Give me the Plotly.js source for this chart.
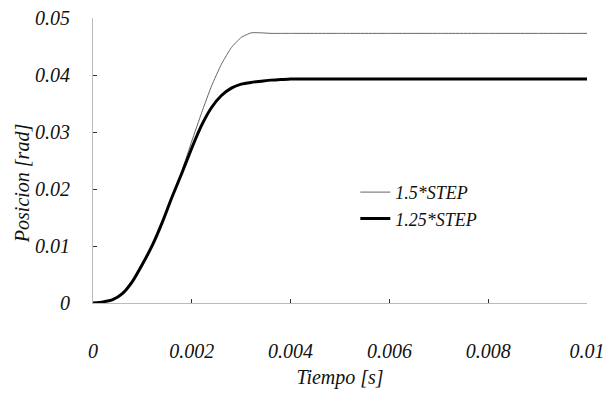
<!DOCTYPE html>
<html>
<head>
<meta charset="utf-8">
<script src="https://cdn.plot.ly/plotly-3.0.1.min.js"></script>
<style>html,body{margin:0;padding:0;background:#fff;}#chart{width:605px;height:393px;}</style>
</head>
<body>
<div id="chart"></div>
<script>
const tiempo = [0,0.0002,0.0004,0.0006,0.0008,0.001,0.0012,0.0014,0.0016,0.0018,0.002,0.0022,0.0024,0.0026,0.0028,0.003,0.0032,0.0034,0.0036,0.0038,0.004,0.005,0.006,0.007,0.008,0.009,0.01];
const step150 = [0,0.0002,0.0006,0.0017,0.0038,0.0068,0.0101,0.0141,0.0186,0.0232,0.0284,0.0334,0.0381,0.0419,0.0448,0.0466,0.0474,0.0474,0.0473,0.0473,0.0473,0.0473,0.0473,0.0473,0.0473,0.0473,0.0473];
const step125 = [0,0.0002,0.0006,0.0017,0.0038,0.0068,0.0101,0.0141,0.0186,0.0228,0.0272,0.0312,0.0343,0.0364,0.0377,0.0384,0.0387,0.0389,0.0391,0.0392,0.0393,0.0393,0.0393,0.0393,0.0393,0.0393,0.0393];
const seriesNames = ['1.5*STEP','1.25*STEP'];
const xTicks = [0,0.002,0.004,0.006,0.008,0.01];
const xTickText = ['0','0.002','0.004','0.006','0.008','0.01'];
const yTicks = [0,0.01,0.02,0.03,0.04,0.05];
const yTickText = ['0','0.01','0.02','0.03','0.04','0.05'];
const xTitle = 'Tiempo [s]';
const yTitle = 'Posicion [rad]';

const fontFam = 'Liberation Serif';
const traces = [
  {x: tiempo, y: step150, name: seriesNames[0], mode: 'lines',
   line: {color: '#666', width: 1, shape: 'spline', smoothing: 0.4}},
  {x: tiempo, y: step125, name: seriesNames[1], mode: 'lines',
   line: {color: '#000', width: 3, shape: 'spline', smoothing: 0.5}}
];
const axisCommon = {
  showgrid: false, zeroline: false, showline: true, linecolor: '#bbb', linewidth: 1,
  ticks: 'inside', ticklen: 4, tickcolor: '#333', tickwidth: 1,
  tickfont: {family: fontFam, size: 20, color: '#111', style: 'italic'}
};
const layout = {
  width: 605, height: 393,
  font: {family: fontFam, size: 18, color: '#111', style: 'italic'},
  margin: {l: 93, r: 18, t: 18, b: 90},
  paper_bgcolor: '#fff', plot_bgcolor: '#fff',
  showlegend: true,
  legend: {x: 0.531, y: 0.453, xanchor: 'left', yanchor: 'top', bgcolor: 'rgba(0,0,0,0)',
    font: {family: fontFam, size: 18, color: '#111', style: 'italic'}, tracegroupgap: 0},
  xaxis: Object.assign({}, axisCommon, {
    range: [0, 0.01], tickmode: 'array', tickvals: xTicks, ticktext: xTickText,
    ticklabelstandoff: 30,
    title: {text: xTitle, standoff: 8, font: {family: fontFam, size: 20, color: '#111', style: 'italic'}}
  }),
  yaxis: Object.assign({}, axisCommon, {
    range: [0, 0.05], tickmode: 'array', tickvals: yTicks, ticktext: yTickText,
    ticklabelstandoff: 18
  }),
  annotations: [{
    text: yTitle, xref: 'paper', yref: 'paper', x: -0.144, y: 0.42,
    xanchor: 'center', yanchor: 'middle', textangle: -90, showarrow: false,
    font: {family: fontFam, size: 20, color: '#111', style: 'italic'}
  }]
};
Plotly.newPlot('chart', traces, layout, {displayModeBar: false, staticPlot: true});
</script>
</body>
</html>
